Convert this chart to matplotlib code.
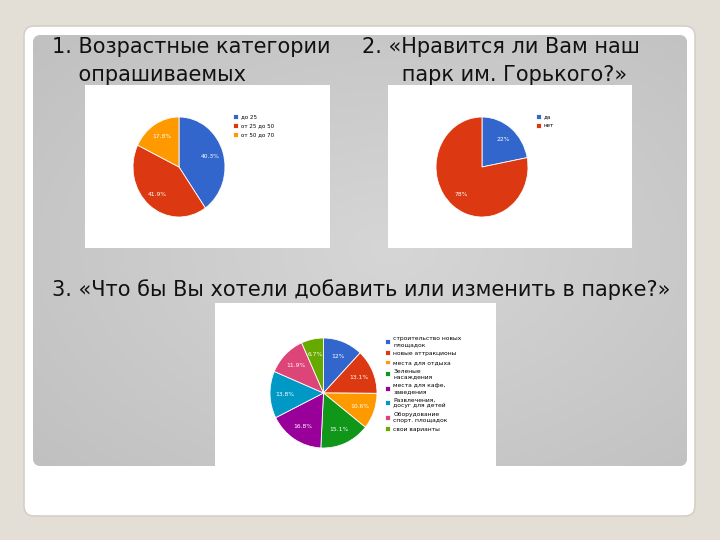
import numpy as np
import matplotlib.pyplot as plt
from matplotlib.patches import FancyBboxPatch

W, H = 720, 540

# данные
age_labels = ['до 25', 'от 25 до 50', 'от 50 до 70']
age_values = [40.3, 41.9, 17.8]
age_colors = ['#3366cc', '#dc3912', '#ff9900']

like_labels = ['да', 'нет']
like_values = [22, 78]
like_colors = ['#3366cc', '#dc3912']

wish_labels = ['строительство новых\nплощадок', 'новые аттракционы', 'места для отдыха',
               'Зеленые\nнасаждения', 'места для кафе,\nзаведения', 'Развлечения,\nдосуг для детей',
               'Оборудование\nспорт. площадок', 'свои варианты']
wish_values = [12, 13.1, 10.6, 15.1, 16.8, 13.8, 11.9, 6.7]
wish_colors = ['#3366cc', '#dc3912', '#ff9900', '#109618', '#990099', '#0099c6', '#dd4477', '#66aa00']

title1 = ['1. Возрастные категории', '    опрашиваемых']
title2 = ['2. «Нравится ли Вам наш', '      парк им. Горького?»']
title3 = '3. «Что бы Вы хотели добавить или изменить в парке?»'


def rect(x, y, w, h):
    return [x / W, 1 - (y + h) / H, w / W, h / H]


def fmt(p):
    s = f'{p:.1f}'
    if s.endswith('.0'):
        s = s[:-2]
    return s + '%'


fig = plt.figure(figsize=(7.2, 5.4), dpi=100)
fig.patch.set_facecolor('#e4dfd6')

bg = fig.add_axes([0, 0, 1, 1])
bg.axis('off')

card = FancyBboxPatch((24, 26), 671, 490, boxstyle='round,pad=0,rounding_size=10',
                      fc='white', ec='#d4d0c8', lw=1.2)
bg.add_patch(card)
panel = FancyBboxPatch((33, 35), 654, 431, boxstyle='round,pad=0,rounding_size=8',
                       fc='#cacaca', ec='none')
bg.add_patch(panel)

# градиент серой панели: светлее в центре
yy, xx = np.mgrid[0:1:200j, 0:1:300j]
d = np.clip(np.sqrt((xx - 0.55) ** 2 + (yy - 0.5) ** 2) / 0.75, 0, 1)
g = (214 - 22 * d) / 255
im = bg.imshow(np.dstack([g, g, g]), extent=(33, 687, 466, 35), aspect='auto', zorder=1)
im.set_clip_path(panel)
bg.set_xlim(0, W)
bg.set_ylim(H, 0)

for i, line in enumerate(title1):
    bg.text(52, 47 + 28 * i, line, fontsize=15, va='center', ha='left', color='#111111', zorder=3)
for i, line in enumerate(title2):
    bg.text(362, 47 + 28 * i, line, fontsize=15, va='center', ha='left', color='#111111', zorder=3)
bg.text(52, 290, title3, fontsize=15, va='center', ha='left', color='#111111', zorder=3)

# белые подложки диаграмм
for r in [(85, 85, 245, 163), (388, 85, 244, 163), (215, 303, 281, 164)]:
    a = fig.add_axes(rect(*r))
    a.set_facecolor('white')
    a.set_xticks([])
    a.set_yticks([])
    for s in a.spines.values():
        s.set_visible(False)


def draw_pie(box, values, colors, pctd):
    ax = fig.add_axes(rect(*box))
    wedges, texts, autotexts = ax.pie(values, colors=colors, startangle=90, counterclock=False,
                                      autopct=fmt, pctdistance=pctd, radius=1,
                                      wedgeprops=dict(edgecolor='white', linewidth=0.6),
                                      textprops=dict(color='white', fontsize=4.3))
    ax.set_aspect('auto')
    ax.set_xlim(-1, 1)
    ax.set_ylim(-1, 1)
    ax.axis('off')
    return wedges


w1 = draw_pie((133, 117, 92, 100), age_values, age_colors, 0.72)
w2 = draw_pie((436, 117, 92, 100), like_values, like_colors, 0.72)
w3 = draw_pie((270, 338, 107, 110), wish_values, wish_colors, 0.72)

leg_kw = dict(loc='upper left', frameon=False, handlelength=0.9, handleheight=0.9,
              handletextpad=0.5, borderaxespad=0, borderpad=0)
fig.legend(w1, age_labels, bbox_to_anchor=(233 / W, 1 - 114 / H), fontsize=4,
           labelspacing=0.7, **leg_kw)
fig.legend(w2, like_labels, bbox_to_anchor=(536 / W, 1 - 114 / H), fontsize=4,
           labelspacing=0.7, **leg_kw)
fig.legend(w3, wish_labels, bbox_to_anchor=(385 / W, 1 - 336 / H), fontsize=4.3,
           labelspacing=0.6, **leg_kw)

fig.savefig('out.png', dpi=100, facecolor=fig.get_facecolor())
